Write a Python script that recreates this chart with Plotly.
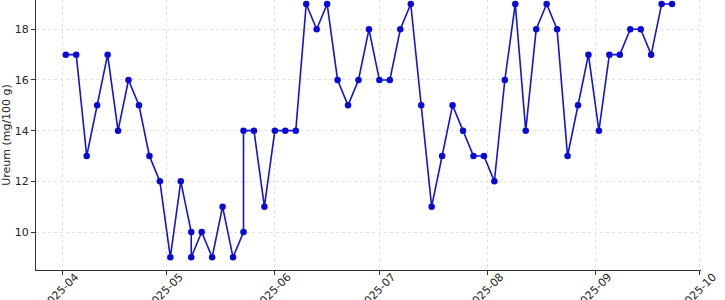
import plotly.graph_objects as go
import pandas as pd

dates = [
    "2025-04-02", "2025-04-05", "2025-04-08", "2025-04-11", "2025-04-14", "2025-04-17",
    "2025-04-20", "2025-04-23", "2025-04-26", "2025-04-29", "2025-05-02", "2025-05-05",
    "2025-05-08", "2025-05-08", "2025-05-11", "2025-05-14", "2025-05-17", "2025-05-20",
    "2025-05-23", "2025-05-23", "2025-05-26", "2025-05-29", "2025-06-01", "2025-06-04",
    "2025-06-07", "2025-06-10", "2025-06-13", "2025-06-16", "2025-06-19", "2025-06-22",
    "2025-06-25", "2025-06-28", "2025-07-01", "2025-07-04", "2025-07-07", "2025-07-10",
    "2025-07-13", "2025-07-16", "2025-07-19", "2025-07-22", "2025-07-25", "2025-07-28",
    "2025-07-31", "2025-08-03", "2025-08-06", "2025-08-09", "2025-08-12", "2025-08-15",
    "2025-08-18", "2025-08-21", "2025-08-24", "2025-08-27", "2025-08-30", "2025-09-02",
    "2025-09-05", "2025-09-08", "2025-09-11", "2025-09-14", "2025-09-17", "2025-09-20",
    "2025-09-23",
]
ureum = [
    17, 17, 13, 15, 17, 14,
    16, 15, 13, 12, 9, 12,
    10, 9, 10, 9, 11, 9,
    10, 14, 14, 11, 14, 14,
    14, 19, 18, 19, 16, 15,
    16, 18, 16, 16, 18, 19,
    15, 11, 13, 15, 14, 13,
    13, 12, 16, 19, 14, 18,
    19, 18, 13, 15, 17, 14,
    17, 17, 18, 18, 17, 19,
    19,
]
tick_dates = ["2025-04-01", "2025-05-01", "2025-06-01", "2025-07-01",
              "2025-08-01", "2025-09-01", "2025-10-01"]
tick_labels = ["2025-04", "2025-05", "2025-06", "2025-07", "2025-08", "2025-09", "2025-10"]
y_ticks = [10, 12, 14, 16, 18]
y_label = "Ureum (mg/100 g)"

x_min = pd.Timestamp("2025-04-01") - pd.Timedelta(days=7.55)
x_max = pd.Timestamp("2025-10-01") + pd.Timedelta(days=0.3)

FONT = "DejaVu Sans"
fig = go.Figure()
fig.add_trace(go.Scatter(
    x=pd.to_datetime(dates), y=ureum, mode="lines+markers",
    line=dict(color="#1414d2", width=1.6),
    marker=dict(color="#0a0ad8", size=6.5),
    cliponaxis=False, showlegend=False,
))

fig.update_layout(
    width=725, height=300,
    margin=dict(l=36, r=23.5, t=0, b=30),
    paper_bgcolor="white", plot_bgcolor="white",
    font=dict(family=FONT, size=11, color="#262626"),
)
fig.update_xaxes(
    range=[x_min, x_max], automargin=False,
    tickvals=pd.to_datetime(tick_dates), ticktext=tick_labels,
    tickangle=-45, ticklabelshift=13, ticklabelstandoff=-9,
    ticks="outside", ticklen=4, tickcolor="#333", tickwidth=1,
    showline=True, linecolor="#333", linewidth=1.2,
    showgrid=True, gridcolor="#e2e2e2", griddash="dot", gridwidth=0.8,
    zeroline=False,
)
fig.update_yaxes(
    range=[8.5, 19.157], automargin=True,
    tickvals=y_ticks,
    ticks="outside", ticklen=4, tickcolor="#333", tickwidth=1,
    showline=True, linecolor="#333", linewidth=1.2,
    showgrid=True, gridcolor="#e2e2e2", griddash="dot", gridwidth=0.8,
    zeroline=False,
    title=dict(text=y_label, standoff=2, font=dict(size=11)),
)

fig.write_html("out.html")
